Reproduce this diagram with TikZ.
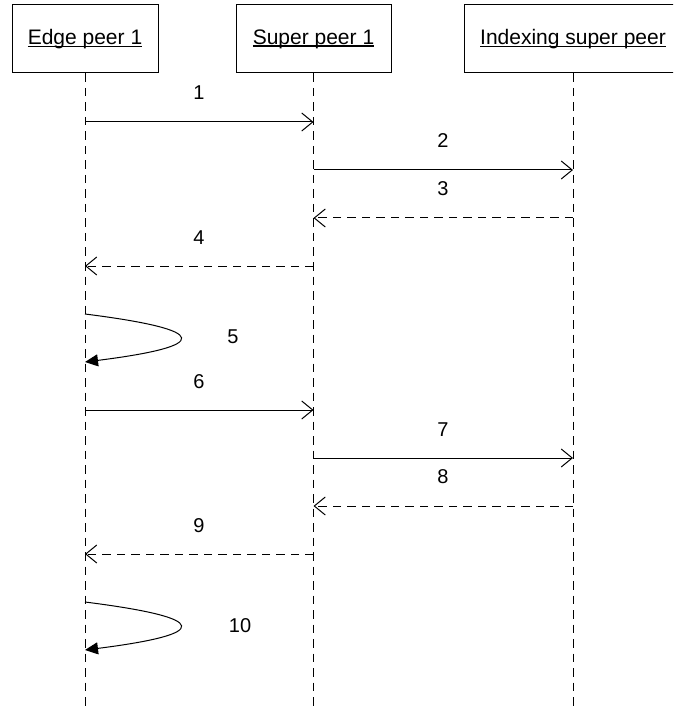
\documentclass[tikz,border=0pt]{standalone}
\usepackage{fontspec}
\setmainfont{Liberation Sans}
\usetikzlibrary{arrows.meta}
% underlined header text, rule set just under the baseline
\newcommand\headtext[1]{\setbox0=\hbox{#1}\rlap{\rule[-2.4pt]{\wd0}{1.2pt}}\box0}
\begin{document}
\begin{tikzpicture}[x=1pt,y=-1pt,
  header/.style={draw, line width=1pt, minimum height=68pt, inner sep=0pt,
    font=\fontsize{21}{25}\selectfont},
  lifeline/.style={line width=1pt, dash pattern=on 8.5pt off 6pt},
  call/.style={line width=1pt, -{Straight Barb[length=11pt,width=18pt,line width=1pt]}},
  reply/.style={call, dash pattern=on 8.5pt off 6pt},
  selfcall/.style={line width=1pt, -{Triangle[length=13pt,width=12pt]}},
  num/.style={font=\fontsize{20}{24}\selectfont, inner sep=0pt}]
\useasboundingbox (0,0) rectangle (673,708);
\clip (0,0) rectangle (673,708);

% participants
\node[header, minimum width=146pt] (h1) at (85,39)    {\headtext{Edge peer 1}};
\node[header, minimum width=155pt] (h2) at (313.5,39) {\headtext{Super peer 1}};
\node[header, minimum width=218pt] (h3) at (573,39)   {\headtext{Indexing super peer}};

% lifelines
\coordinate (b1) at (85,710);
\coordinate (b2) at (313.5,710);
\coordinate (b3) at (573,710);
\draw[lifeline] (h1.south) -- (b1);
\draw[lifeline] (h2.south) -- (b2);
\draw[lifeline] (h3.south) -- (b3);

% message end points on the lifelines
\coordinate (e1) at (85,122);  \coordinate (s1) at (313.5,122);
\coordinate (s2) at (313.5,170); \coordinate (i2) at (573,170);
\coordinate (i3) at (573,218); \coordinate (s3) at (313.5,218);
\coordinate (s4) at (313.5,266); \coordinate (e4) at (85,266);
\coordinate (e5a) at (85,314); \coordinate (e5b) at (85,362);
\coordinate (e6) at (85,410);  \coordinate (s6) at (313.5,410);
\coordinate (s7) at (313.5,458); \coordinate (i7) at (573,458);
\coordinate (i8) at (573,506); \coordinate (s8) at (313.5,506);
\coordinate (s9) at (313.5,554); \coordinate (e9) at (85,554);
\coordinate (e10a) at (85,602); \coordinate (e10b) at (85,650);

% messages
\draw[call]  (e1) -- (s1);
\draw[call]  (s2) -- (i2);
\draw[reply] (i3) -- (s3);
\draw[reply] (s4) -- (e4);
\draw[selfcall] (e5a) .. controls (211.7,330) and (211.7,346) .. (e5b);
\draw[call]  (e6) -- (s6);
\draw[call]  (s7) -- (i7);
\draw[reply] (i8) -- (s8);
\draw[reply] (s9) -- (e9);
\draw[selfcall] (e10a) .. controls (211.7,618) and (211.7,634) .. (e10b);

% message numbers
\node[num] (n1)  at (199,93)  {1};
\node[num] (n2)  at (443,141) {2};
\node[num] (n3)  at (443,189) {3};
\node[num] (n4)  at (199,238) {4};
\node[num] (n5)  at (233,337) {5};
\node[num] (n6)  at (199,382) {6};
\node[num] (n7)  at (443,430) {7};
\node[num] (n8)  at (443,477) {8};
\node[num] (n9)  at (199,526) {9};
\node[num] (n10) at (240,626) {10};
\end{tikzpicture}
\end{document}
